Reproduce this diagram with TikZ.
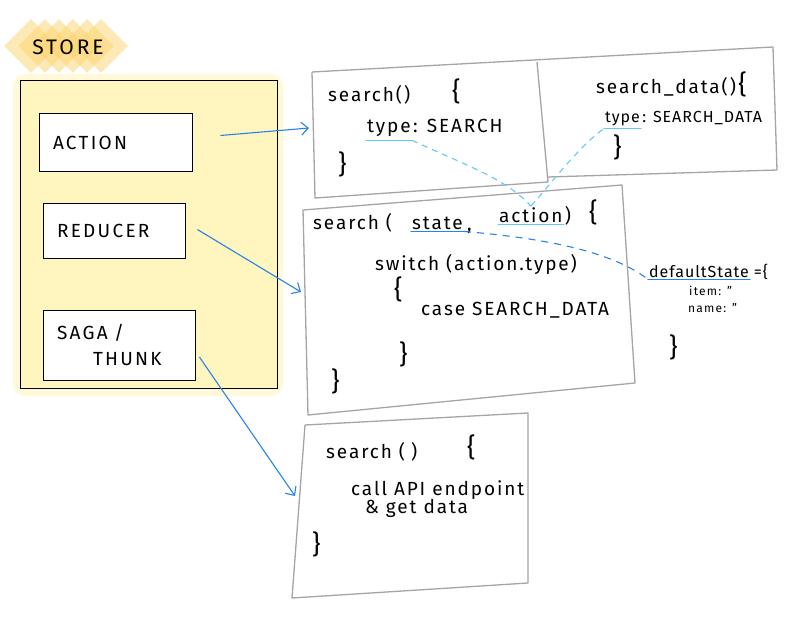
\documentclass[tikz,border=0pt]{standalone}
\usepackage{fontspec}
\setmainfont{Fira Sans}
\usetikzlibrary{arrows.meta,positioning}
\definecolor{linkblue}{RGB}{40,130,235}
\definecolor{hintblue}{RGB}{100,200,245}
\definecolor{storefill}{RGB}{255,245,190}
\definecolor{storehalo}{RGB}{255,249,218}
\definecolor{storetag}{RGB}{252,212,110}
\definecolor{sketchgray}{RGB}{165,165,165}

\begin{document}
\begin{tikzpicture}[x=1pt, y=-1pt,
  part/.style={draw, thick, fill=white, rectangle, inner xsep=12pt, align=left, font=\fontsize{19}{26}\selectfont\addfontfeature{LetterSpace=12}},
  code/.style={anchor=base west, inner sep=1pt, font=\fontsize{19}{22}\selectfont\addfontfeature{LetterSpace=10}},
  smallcode/.style={anchor=base west, inner sep=1pt, font=\fontsize{16}{18}\selectfont\addfontfeature{LetterSpace=6}},
  tinycode/.style={anchor=base west, inner sep=1pt, font=\fontsize{12}{14}\selectfont\addfontfeature{LetterSpace=10}},
  brace/.style={anchor=base west, inner sep=1pt, font=\fontsize{26}{28}\selectfont},
  sketch/.style={draw=sketchgray, line width=1.3pt, line join=round},
  link/.style={draw=linkblue, line width=1.1pt, -{Straight Barb[length=7pt, width=13pt]}},
  hint/.style={draw=hintblue, line width=1.1pt, dash pattern=on 6pt off 5pt},
  statehint/.style={draw=linkblue, line width=1.1pt, dash pattern=on 7pt off 6pt},
  underA/.style={draw=hintblue, line width=1.2pt, line cap=round},
  underB/.style={draw=linkblue, line width=1.2pt, line cap=round}]
  \useasboundingbox (0,0) rectangle (800,626);

  % Store
  \fill[storehalo, rounded corners=12pt] (13,74) rectangle (283,396);
  \node[draw, thick, fill=storefill, minimum width=257pt, minimum height=308pt] (store) at (148.5,234) {};
  \foreach \i in {0,...,5}
    \fill[storetag, opacity=0.5, rotate around={45:(31+14*\i,46)}] (12+14*\i,27) rectangle (50+14*\i,65);
  \node[inner sep=0pt, font=\fontsize{21}{22}\selectfont\addfontfeature{LetterSpace=14}] (storeTag) at (68,47) {STORE};

  \node[part, minimum width=153pt, minimum height=58pt, text width=125pt] (act) at (115.5,142.5) {ACTION};
  \node[part, minimum width=142pt, minimum height=55pt, text width=114pt] (red) at (114,230.5) {REDUCER};
  \node[part, minimum width=152pt, minimum height=70pt, text width=124pt] (saga) at (119,345) {SAGA /\\\hspace*{36pt}THUNK};

  % Action creators
  \draw[sketch] (312,72) -- (773,47) -- (777,170) -- (548,177);
  \draw[sketch] (537,62) -- (548,182);
  \draw[sketch] (312,72) -- (315,198) -- (548,182);
  \node[code] (fnA) at (327,101) {search()};
  \node[brace] (fnAopen) at (451,100) {\{};
  \node[code] (typeA) at (366,132) {type};
  \node[code] (valA) at (typeA.base east) {: SEARCH};
  \node[brace] (fnAclose) at (337,173) {\}};
  \node[code] (fnB) at (595,93) {search\_data()};
  \node[brace] (fnBopen) at (fnB.base east) {\{};
  \node[smallcode] (typeB) at (604,122) {type};
  \node[smallcode] (valB) at (typeB.base east) {: SEARCH\_DATA};
  \node[brace] (fnBclose) at (612,156) {\}};

  % Reducer
  \draw[sketch] (303,210) -- (622,185) -- (635,383) -- (308,415) -- cycle;
  \node[code] (fnC) at (312,229) {search (};
  \node[code] (stateN) at (411,229) {state};
  \node[code] (commaN) at (466,230) {,};
  \node[code] (actN) at (498,222) {action};
  \node[code] (closeC) at (actN.base east) {)};
  \node[brace] (fnCopen) at (588,221) {\{};
  \node[code] (switchN) at (374,270) {switch (action.type)};
  \node[brace] (swOpen) at (393,298) {\{};
  \node[code] (caseN) at (420,315) {case SEARCH\_DATA};
  \node[brace] (swClose) at (398,363) {\}};
  \node[brace] (fnCclose) at (330,390) {\}};

  % Initial state
  \node[smallcode] (defN) at (648,277) {defaultState};
  \node[smallcode] (defEq) at (defN.base east) {\,=\{};
  \node[tinycode] (itemN) at (688,295) {item: "};
  \node[tinycode] (nameN) at (687,312) {name: "};
  \node[brace] (defClose) at (668,356) {\}};

  % Saga / thunk
  \draw[sketch] (305,425) -- (528,413) -- (528,583) -- (292,598) -- cycle;
  \node[code] (fnD) at (325,458) {search (\hspace{6pt})};
  \node[brace] (fnDopen) at (466,456) {\{};
  \node[code] (callN) at (350,495) {call API endpoint};
  \node[code] (getN) at (364,513) {\& get data};
  \node[brace] (fnDclose) at (311,553) {\}};

  % Arrows from the store
  \coordinate (srchIn) at (309,128);
  \coordinate (redIn) at (301,292);
  \coordinate (sagaIn) at (295,496);
  \draw[link] ([xshift=28pt, yshift=7pt]act.east) -- (srchIn);
  \draw[link] ([xshift=12pt, yshift=1pt]red.east) -- (redIn);
  \draw[link] ([xshift=4pt, yshift=-12pt]saga.east) -- (sagaIn);

  % Underlines and links
  \draw[underA] ([yshift=-3pt]typeA.south west) -- ([yshift=-3pt]typeA.south east);
  \draw[underA] ([yshift=-2pt]typeB.south west) -- ([yshift=-2pt]typeB.south east);
  \draw[underA] ([yshift=-1pt]actN.south west) -- ([yshift=-1pt]actN.south east);
  \draw[underB] ([yshift=-1pt]stateN.south west) -- ([yshift=-1pt]stateN.south east);
  \draw[underB] ([yshift=-1pt]defN.south west) -- ([yshift=-1pt]defN.south east);
  \draw[hint] ([yshift=-3pt]typeA.south east) .. controls (465,165) and (505,178) .. (actN.north);
  \draw[hint] (actN.north) .. controls (550,185) and (580,145) .. ([yshift=-2pt]typeB.south west);
  \draw[statehint] ([yshift=-1pt]stateN.south east) .. controls (540,238) and (610,250) .. ([yshift=-1pt]defN.south west);
\end{tikzpicture}
\end{document}
